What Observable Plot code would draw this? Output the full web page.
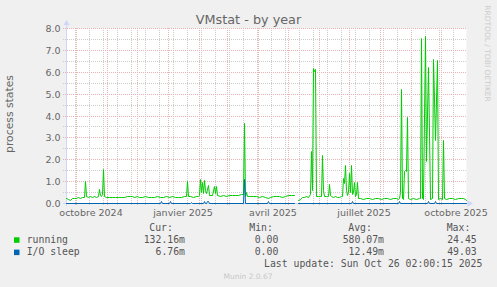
<!DOCTYPE html>
<html><head><meta charset="utf-8">
<script src="https://cdn.jsdelivr.net/npm/d3@7"></script>
<script src="https://cdn.jsdelivr.net/npm/@observablehq/plot@0.6"></script>
<style>
html,body{margin:0;padding:0;background:#F0F0F0;}
#chart{width:497px;height:287px;}
svg{display:block;}
</style></head><body><div id="chart"></div>
<script>
// ---- data ----
const graphStart = "2024-09-21";
const graphEnd = "2025-10-26";
const titleText = "VMstat - by year";
const yLabel = "process states";
const watermark = "RRDTOOL / TOBI OETIKER";

// running: days since graphStart and value
const runDay = [0,2,4,6,8,10,12,14,16,18,19,20,22,24,26,28,30,32,33,34,35,36,37,38,
  40,43,46,49,52,55,58,61,64,66,68,71,73,76,79,82,85,88,91,94,97,100,103,106,109,112,115,118,
  120,121,122,124,127,130,132,133,134,135,136,137,138,139,140,142,143,146,148,149,150,151,
  154,157,160,163,166,169,172,175,177,178,179,180,181,184,187,190,193,196,199,202,204,207,210,213,216,219,222,225,228,229,
  232,234,236,238,240,242,244,245,246,247,248,249,250,252,254,255,256,257,258,260,262,263,264,265,267,269,271,273,275,276,277,278,279,280,281,282,283,284,285,286,287,288,289,290,291,292,
  294,297,300,303,306,309,312,315,318,321,324,327,330,332,333,334,335,336,337,338,339,340,341,342,344,347,350,353,354,355,356,357,359,360,362,364,366,367,369,371,372,374,376,377,378,380,383,386,389,392,395,397,399,400];
const runValue = [0.23,0.2,0.15,0.23,0.25,0.22,0.26,0.24,0.27,0.28,1.02,0.3,0.27,0.3,0.28,0.31,0.29,0.3,0.64,0.35,0.3,0.4,1.55,0.3,
  0.28,0.27,0.26,0.28,0.27,0.29,0.28,0.3,0.33,0.32,0.28,0.34,0.29,0.28,0.3,0.27,0.29,0.28,0.31,0.29,0.27,0.3,0.28,0.3,0.27,0.29,0.28,0.3,
  0.3,0.99,0.32,0.3,0.29,0.31,0.3,0.35,1.1,0.5,0.95,0.45,1.05,0.6,0.45,0.84,0.35,0.35,0.8,0.45,0.8,0.35,
  0.33,0.36,0.34,0.37,0.35,0.38,0.36,0.39,0.4,3.68,0.3,0.52,0.3,0.32,0.3,0.33,0.29,0.31,0.28,0.22,0.27,0.3,0.33,0.31,0.29,0.32,0.35,0.36,0.35,null,
  0.15,0.2,0.27,0.28,0.3,0.29,0.4,2.39,0.6,6.16,6.05,6.12,0.3,0.32,0.3,0.3,2.2,0.6,0.3,0.32,0.3,0.88,0.35,0.3,0.28,0.3,0.27,0.29,0.3,0.3,1.14,0.9,1.75,0.6,0.35,0.5,1.37,0.5,1.75,0.4,0.5,0.98,0.3,0.4,0.98,0.25,
  0.22,0.2,0.21,0.23,0.2,0.22,0.21,0.2,0.23,0.21,0.2,0.22,0.24,0.2,0.22,0.5,5.22,0.25,0.2,1.45,1.5,1.45,3.95,0.22,0.2,0.21,0.2,0.21,0.22,7.53,0.25,0.2,7.63,1.9,6.24,0.2,0.22,6.57,2.9,6.54,0.2,0.22,0.2,2.89,0.22,0.2,0.23,0.21,0.2,0.22,0.24,0.25,0.2,0.13];

// I/O sleep
const ioDay = [0,94,95,96,103,104,105,124,125,126,137,138,139,140,141,142,143,177,178,179,201,202,203,228,229,232,285,286,287,332,333,334,361,362,363,368,369,370,400];
const ioValue = [0,0,0.07,0,0,0.07,0,0,0.06,0,0,0.07,0,0,0.07,0.07,0,0,1.1,0,0,0.07,0,0,null,0,0,0.07,0,0,0.07,0,0,0.07,0,0,0.07,0,0];

const yTicks = [0,1,2,3,4,5,6,7,8];
const yMinor = [0.5,1.5,2.5,3.5,4.5,5.5,6.5,7.5];
const monthLines = ["2024-10-01","2024-11-01","2024-12-01","2025-01-01","2025-02-01","2025-03-01","2025-04-01","2025-05-01","2025-06-01","2025-07-01","2025-08-01","2025-09-01","2025-10-01"];
const weekLines = ["2024-09-30","2024-10-14","2024-10-28","2024-11-11","2024-11-25","2024-12-09","2024-12-23","2025-01-06","2025-01-20","2025-02-03","2025-02-17","2025-03-03","2025-03-17","2025-03-31","2025-04-14","2025-04-28","2025-05-12","2025-05-26","2025-06-09","2025-06-23","2025-07-07","2025-07-21","2025-08-04","2025-08-18","2025-09-01","2025-09-15","2025-09-29","2025-10-13"];
const xLabelDates = ["2024-10-15","2025-01-15","2025-04-15","2025-07-15","2025-10-15"];
const xLabels = ["octobre 2024","janvier 2025","avril 2025","juillet 2025","octobre 2025"];

const seriesNames = ["running","I/O sleep"];
const seriesColors = ["#00CC00","#0066B3"];
const legendHeaders = ["Cur:","Min:","Avg:","Max:"];
const curValues = ["132.16m","6.76m"];
const minValues = ["0.00","0.00"];
const avgValues = ["580.07m","12.49m"];
const maxValues = ["24.45","49.03"];
const lastUpdate = "Last update: Sun Oct 26 02:00:15 2025";
const versionText = "Munin 2.0.67";

// ---- build ----
const parse = d3.utcParse("%Y-%m-%d");
const t0 = parse(graphStart), t1 = parse(graphEnd);
const running = runDay.map((d,i)=>({date: d3.utcDay.offset(t0,d), value: runValue[i]}));
const iosleep = ioDay.map((d,i)=>({date: d3.utcDay.offset(t0,d), value: ioValue[i]}));
const months = monthLines.map(parse);
const weeks = weekLines.map(parse);
const labelDates = xLabelDates.map(s => d3.utcHour.offset(parse(s), 12));

const RED = "#ecb3b3", GRAY = "#cccccc", AXIS = "#CFD6F8", TXT = "#666666";

const plot = Plot.plot({
  width: 497, height: 287,
  marginLeft: 66, marginRight: 31, marginTop: 28, marginBottom: 84,
  style: {background: "#F0F0F0", fontFamily: "DejaVu Sans", color: TXT, overflow: "visible"},
  x: {type: "utc", domain: [t0, t1]},
  y: {domain: [0, 8], round: true},
  marks: [
    Plot.frame({fill: "white", stroke: null}),
    Plot.ruleX(weeks, {stroke: GRAY, strokeDasharray: "1,1", insetBottom: -3}),
    Plot.ruleY(yMinor, {stroke: GRAY, strokeDasharray: "1,1", insetLeft: -3}),
    Plot.ruleX(months, {stroke: RED, strokeDasharray: "1,1", insetBottom: -3}),
    Plot.ruleY(yTicks.slice(1), {stroke: RED, strokeDasharray: "1,1", insetLeft: -3}),
    Plot.ruleY([0], {stroke: AXIS, insetLeft: -3, insetRight: -2}),
    Plot.ruleX([t0], {stroke: AXIS, insetTop: -3, insetBottom: -3}),
    Plot.line(running, {x: "date", y: "value", stroke: seriesColors[0], strokeWidth: 1}),
    Plot.line(iosleep, {x: "date", y: "value", stroke: seriesColors[1], strokeWidth: 1}),
    Plot.axisY({ticks: yTicks, tickFormat: d => d.toFixed(1), tickSize: 0, tickPadding: 6, fontSize: 9.5, fill: TXT, label: null}),
    Plot.axisX({ticks: labelDates, tickFormat: d => xLabels[labelDates.findIndex(t => +t === +d)], tickSize: 0, tickPadding: 6, fontSize: 9.5, fill: TXT, label: null})
  ]
});
document.getElementById("chart").appendChild(plot);

// ---- decorations: arrows, title, legend ----
const svg = d3.select(plot);
const xs = plot.scale("x"), ys = plot.scale("y");
const xL = xs.range[0], xR = xs.range[1];
const yB = ys.range[0], yT = ys.range[1];
svg.append("path").attr("d", `M${xL+0.5-3},${yT-3}L${xL+0.5+3},${yT-3}L${xL+0.5},${yT-8}Z`).attr("fill", AXIS);
svg.append("path").attr("d", `M${xR+1.5},${yB+0.5-3.3}L${xR+1.5},${yB+0.5+3.3}L${xR+7},${yB+0.5}Z`).attr("fill", AXIS);

svg.append("text").attr("x", 248.5).attr("y", 23.5).attr("text-anchor", "middle")
  .attr("font-family", "DejaVu Sans").attr("font-size", 12.8).attr("fill", TXT).text(titleText);
svg.append("text").attr("transform", `translate(13,114) rotate(-90)`).attr("text-anchor", "middle")
  .attr("font-family", "DejaVu Sans").attr("font-size", 10.8).attr("fill", TXT).text(yLabel);
svg.append("text").attr("transform", `translate(485,53.5) rotate(90)`).attr("text-anchor", "middle")
  .attr("font-family", "DejaVu Sans").attr("font-size", 7.5).attr("fill", "#cccccc").text(watermark);

const lg = svg.append("g").attr("font-family", "DejaVu Sans Mono").attr("font-size", 9.8)
  .attr("fill", "#555555").attr("text-anchor", "start");
const headerX = [149.3, 249.3, 348.3, 446.7];
legendHeaders.forEach((h,i)=> lg.append("text").attr("x", headerX[i]).attr("y", 231).attr("text-anchor", "start").text(h));
const rowY = [243, 255.3];
const colRight = [185, 278.3, 384, 476.7];
seriesNames.forEach((name,i)=>{
  lg.append("rect").attr("x", 14).attr("y", rowY[i]-5.7).attr("width", 5.5).attr("height", 5.5).attr("fill", seriesColors[i]);
  lg.append("text").attr("x", 26.7).attr("y", rowY[i]).attr("text-anchor", "start").style("white-space", "pre").text(name);
  [curValues[i], minValues[i], avgValues[i], maxValues[i]].forEach((v,j)=>
    lg.append("text").attr("x", colRight[j]).attr("y", rowY[i]).attr("text-anchor", "end").text(v));
});
lg.append("text").attr("x", 482.3).attr("y", 267).attr("text-anchor", "end").text(lastUpdate);
svg.append("text").attr("x", 248).attr("y", 279).attr("text-anchor", "middle")
  .attr("font-family", "DejaVu Sans").attr("font-size", 7.5).attr("fill", "#c8c8c8").text(versionText);
</script></body></html>
